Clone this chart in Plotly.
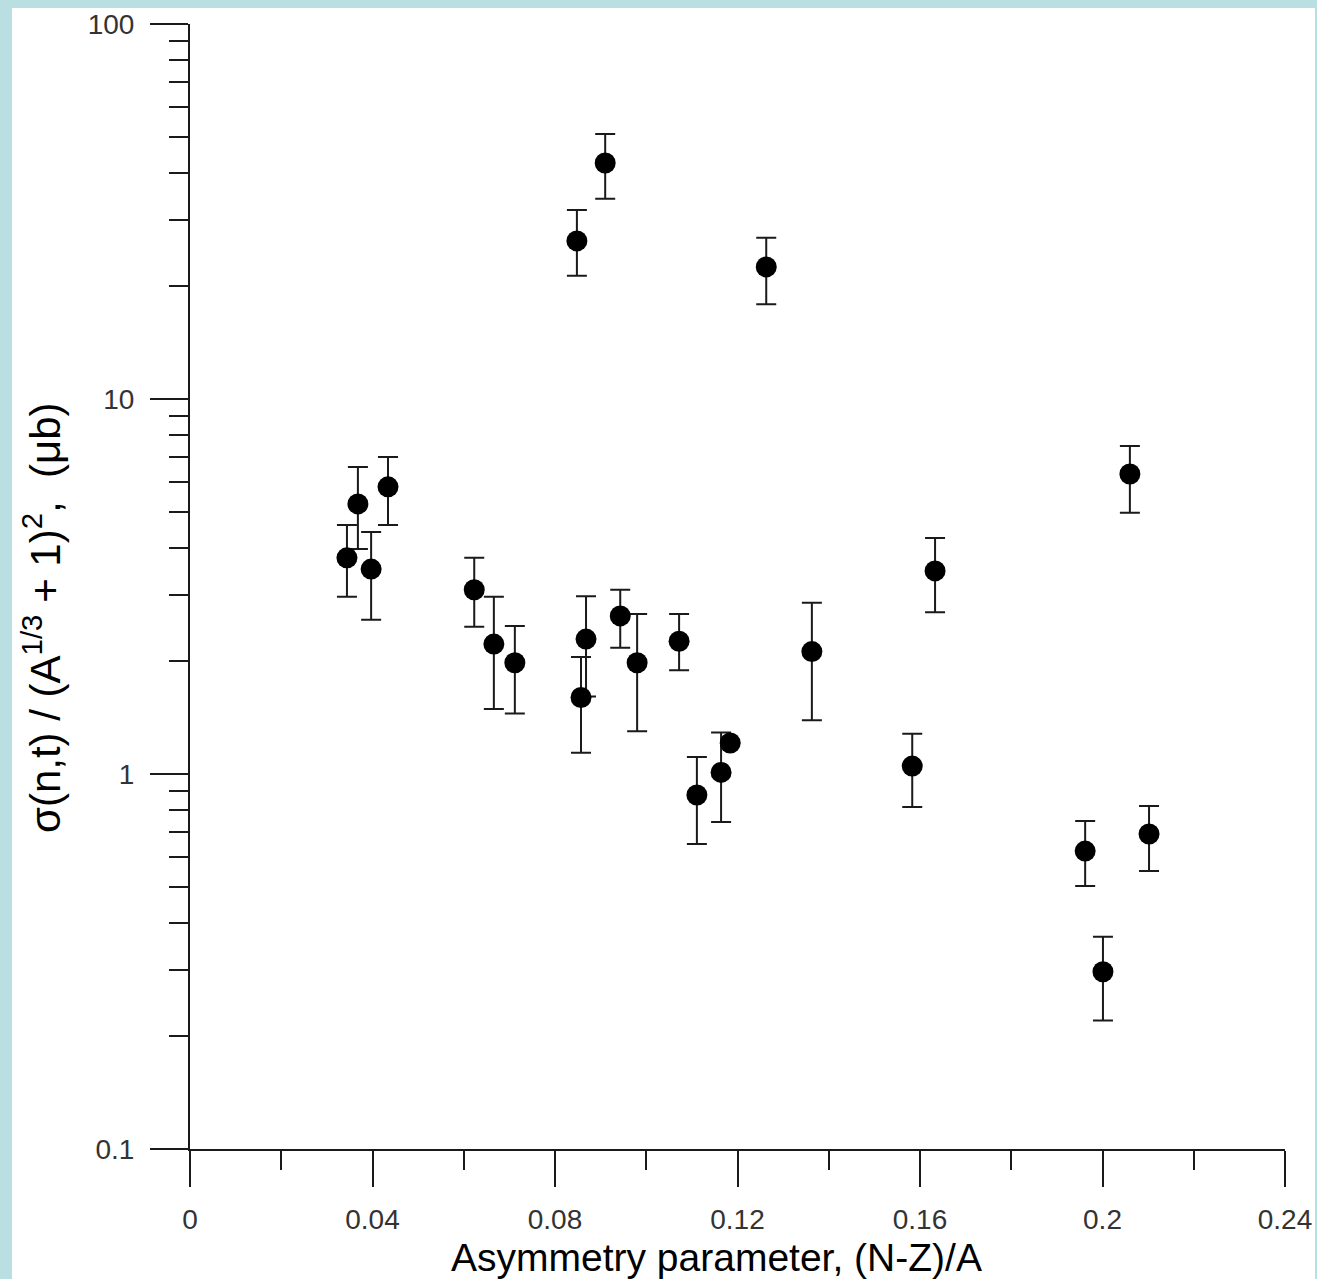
import plotly.graph_objects as go

# ---- data ----
asym = [0.0344, 0.0368, 0.0397, 0.0434, 0.0623, 0.0666, 0.0712, 0.0857,
        0.0868, 0.0943, 0.0980, 0.1072, 0.1111, 0.1164, 0.1184, 0.1363,
        0.1583, 0.1633, 0.2060, 0.1962, 0.2102, 0.2001, 0.0848, 0.0910,
        0.1263]
sigma = [3.77, 5.25, 3.52, 5.83, 3.10, 2.22, 1.98, 1.60,
         2.29, 2.64, 1.98, 2.26, 0.879, 1.01, 1.21, 2.12,
         1.05, 3.48, 6.31, 0.623, 0.692, 0.297, 26.4, 42.6,
         22.5]
err_hi = [4.61, 6.59, 4.42, 7.00, 3.77, 2.97, 2.48, 2.05,
          2.98, 3.10, 2.67, 2.67, 1.11, 1.29, 1.21, 2.86,
          1.28, 4.26, 7.49, 0.749, 0.822, 0.368, 31.9, 50.9,
          26.9]
err_lo = [2.97, 3.98, 2.58, 4.61, 2.47, 1.49, 1.45, 1.14,
          1.61, 2.17, 1.30, 1.89, 0.651, 0.745, 1.21, 1.39,
          0.817, 2.70, 4.97, 0.503, 0.551, 0.220, 21.3, 34.2,
          17.9]

x_tickvals = [0, 0.04, 0.08, 0.12, 0.16, 0.2, 0.24]
x_ticktext = ["0", "0.04", "0.08", "0.12", "0.16", "0.2", "0.24"]
x_minor = [0.02, 0.06, 0.10, 0.14, 0.18, 0.22]
y_tickvals = [0.1, 1, 10, 100]
y_ticktext = ["0.1", "1", "10", "100"]
y_minor = [m * d for d in (0.1, 1, 10) for m in range(2, 10)]

plus = [h - s for h, s in zip(err_hi, sigma)]
minus = [s - l for s, l in zip(sigma, err_lo)]

INK = "#1a1a1a"
FONT = "Liberation Sans, Arial, sans-serif"

fig = go.Figure()
fig.add_trace(go.Scatter(
    x=asym, y=sigma, mode="markers",
    marker=dict(symbol="circle", size=21, color="black", line=dict(width=0)),
    error_y=dict(type="data", symmetric=False, array=plus, arrayminus=minus,
                 color=INK, thickness=2, width=10),
    showlegend=False, cliponaxis=False,
))

W, H = 1317, 1279
L, R, T, B = 190, 32, 24, 130
pw, ph = W - L - R, H - T - B

def px_to_paper_x(px):
    return (px - L) / pw

def px_to_paper_y(py):
    return (H - B - py) / ph

fig.update_layout(
    width=W, height=H,
    margin=dict(l=L, r=R, t=T, b=B, pad=0, autoexpand=False),
    paper_bgcolor="#b9dfe3",
    plot_bgcolor="rgba(0,0,0,0)",
    font=dict(family=FONT, color=INK),
    shapes=[dict(type="rect", xref="paper", yref="paper",
                 x0=px_to_paper_x(12), x1=px_to_paper_x(1315),
                 y0=px_to_paper_y(1300), y1=px_to_paper_y(8),
                 fillcolor="white", line=dict(width=0), layer="below")],
    xaxis=dict(
        range=[0, 0.24], tickmode="array", tickvals=x_tickvals, ticktext=x_ticktext,
        ticks="outside", ticklen=36, tickwidth=2, tickcolor=INK,
        showline=True, linecolor=INK, linewidth=2,
        showgrid=False, zeroline=False,
        tickfont=dict(size=28, color="#333333", family=FONT),
        ticklabelstandoff=8,
        minor=dict(tickmode="array", tickvals=x_minor, ticks="outside",
                   ticklen=19, tickwidth=2, tickcolor=INK, showgrid=False),
    ),
    yaxis=dict(
        type="log", range=[-1, 2], tickmode="array", tickvals=y_tickvals, ticktext=y_ticktext,
        ticks="outside", ticklen=38, tickwidth=2, tickcolor=INK,
        showline=True, linecolor=INK, linewidth=2,
        showgrid=False, zeroline=False,
        tickfont=dict(size=28, color="#333333", family=FONT),
        ticklabelstandoff=10,
        minor=dict(tickmode="array", tickvals=y_minor, ticks="outside",
                   ticklen=19, tickwidth=2, tickcolor=INK, showgrid=False),
    ),
    annotations=[
        dict(text="Asymmetry parameter, (N-Z)/A", xref="paper", yref="paper",
             x=px_to_paper_x(716), y=px_to_paper_y(1257), xanchor="center", yanchor="middle",
             showarrow=False, font=dict(size=39, color="black", family=FONT)),
        dict(text="σ(n,t) / (A<sup>1/3</sup> + 1)<sup>2</sup>,  (μb)", xref="paper", yref="paper",
             x=px_to_paper_x(42), y=px_to_paper_y(618), xanchor="center", yanchor="middle",
             textangle=-90, showarrow=False, font=dict(size=42, color="black", family=FONT)),
    ],
)

fig.write_html("out.html", config={"displayModeBar": False},
               post_script="document.body.style.margin='0';document.body.style.overflow='hidden';")
